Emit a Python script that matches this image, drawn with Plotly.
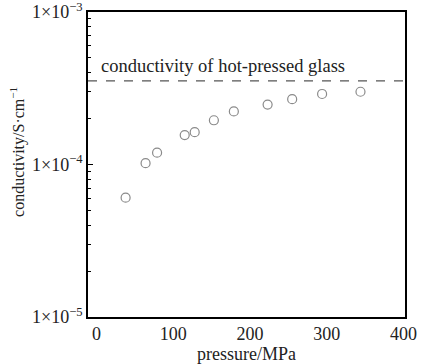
import plotly.graph_objects as go

pressure = [38, 64, 79, 115, 128, 153, 179, 223, 255, 294, 344]
conductivity = [6.06e-5, 1.02e-4, 1.195e-4, 1.56e-4, 1.63e-4, 1.95e-4, 2.23e-4, 2.47e-4, 2.68e-4, 2.90e-4, 3.00e-4]
glass_conductivity = 3.53e-4
glass_label = "conductivity of hot-pressed glass"
x_title = "pressure/MPa"
y_title = "conductivity/S·cm<sup>−1</sup>"
x_ticks = [0, 100, 200, 300, 400]
y_ticks = [1e-5, 1e-4, 1e-3]
y_ticktext = ["1×10<sup>−5</sup>", "1×10<sup>−4</sup>", "1×10<sup>−3</sup>"]

minor_vals = [m * 10 ** e for e in (-5, -4) for m in range(2, 10)]

FONT = "Liberation Serif, Times New Roman, serif"
FS = 18
TXT = "#222222"

fig = go.Figure()
fig.add_trace(go.Scatter(
    x=pressure, y=conductivity, mode="markers",
    marker=dict(symbol="circle-open", size=9, color="#8a8a8a", line=dict(width=1.2)),
    showlegend=False,
))

fig.add_shape(type="line", xref="x domain", yref="y",
              x0=0, x1=1, y0=glass_conductivity, y1=glass_conductivity,
              line=dict(color="#555555", width=1.2, dash="dash"))

fig.add_annotation(text=glass_label, xref="x", yref="paper",
                   x=3, y=0.823, xanchor="left", yanchor="middle",
                   showarrow=False, font=dict(family=FONT, size=18.5, color=TXT))

fig.add_annotation(text=y_title, xref="paper", yref="paper",
                   x=-0.221, y=0.541, xanchor="center", yanchor="middle",
                   textangle=-90, showarrow=False,
                   font=dict(family=FONT, size=16, color=TXT))

fig.update_xaxes(range=[-11, 402], tickvals=x_ticks, ticks="", showgrid=False,
                 zeroline=False, showline=True, linecolor="black", linewidth=1.5,
                 mirror=True, automargin=False,
                 title=dict(text=x_title, standoff=0,
                            font=dict(family=FONT, size=FS, color=TXT)),
                 tickfont=dict(family=FONT, size=FS, color=TXT))
fig.update_yaxes(type="log", range=[-5, -3], tickvals=y_ticks, ticktext=y_ticktext,
                 ticks="inside", ticklen=5, tickcolor="black", showgrid=False,
                 zeroline=False, showline=True, linecolor="black", linewidth=1.5,
                 mirror=True, automargin=False, ticklabeloverflow="allow",
                 minor=dict(tickvals=minor_vals, ticks="inside", ticklen=3,
                            tickcolor="black", showgrid=False),
                 tickfont=dict(family=FONT, size=FS, color=TXT))

fig.update_layout(width=424, height=364, margin=dict(l=88, r=19, t=12, b=47),
                  paper_bgcolor="white", plot_bgcolor="white")

fig.write_html("out.html", config={"displayModeBar": False},
               post_script="document.body.style.margin='0';")
